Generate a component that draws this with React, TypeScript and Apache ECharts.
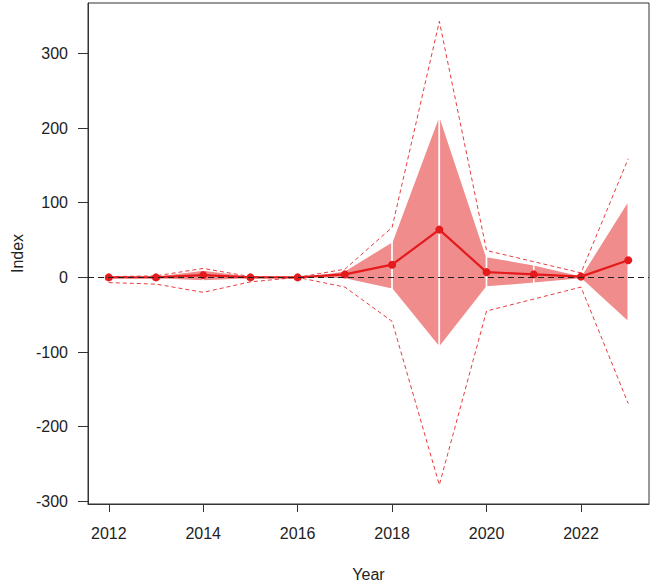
import React, { useEffect, useRef } from "react";
import * as echarts from "echarts";

const years = [2012, 2013, 2014, 2015, 2016, 2017, 2018, 2019, 2020, 2021, 2022, 2023];
const central = [0, 0, 3, 0, 0, 4, 17, 64, 7, 4, 1, 23];
const bandUpper = [1, 2, 10, 2, 0, 9, 48, 218, 28, 17, 2, 103];
const bandLower = [-1, -2, -5, -2, 0, -2, -16, -94, -13, -8, -2, -60];
const dashUpper = [1, 2, 12, 1, 0, 11, 67, 343, 36, 21, 6, 159];
const dashLower = [-7, -9, -20, -6, 0, -13, -59, -278, -45, -29, -13, -169];
const xTicks = [2012, 2014, 2016, 2018, 2020, 2022];
const yTicks = [-300, -200, -100, 0, 100, 200, 300];

const RED = "#E41A1C";
const FONT = "'Liberation Sans', Arial, sans-serif";

export default function App() {
  const ref = useRef<HTMLDivElement>(null);
  useEffect(() => {
    if (!ref.current) return;
    const chart = echarts.init(ref.current, null, { renderer: "svg" });
    const segs = years.slice(0, -1).map((y, i) => [
      y, bandUpper[i], bandLower[i], years[i + 1], bandUpper[i + 1], bandLower[i + 1],
    ]);
    chart.setOption({
      animation: false,
      backgroundColor: "#fff",
      grid: {
        left: 88, top: 3, width: 561, height: 503,
        show: true, borderColor: "#333", borderWidth: 1, backgroundColor: "transparent",
      },
      xAxis: {
        type: "value", min: 2011.56, max: 2023.44,
        name: "Year", nameLocation: "middle", nameGap: 62,
        nameTextStyle: { fontFamily: FONT, fontSize: 16, color: "#222" },
        axisLine: { show: true, onZero: false, lineStyle: { color: "#333" } },
        axisTick: { show: true, length: 8, customValues: xTicks, lineStyle: { color: "#333" } },
        axisLabel: { customValues: xTicks, margin: 21, fontFamily: FONT, fontSize: 16, color: "#222", formatter: (v: number) => String(v) },
        splitLine: { show: false },
      },
      yAxis: {
        type: "value", min: -303.6, max: 367.6,
        name: "Index", nameLocation: "middle", nameGap: 58, nameRotate: 90,
        nameTextStyle: { fontFamily: FONT, fontSize: 16, color: "#222" },
        axisLine: { show: true, onZero: false, lineStyle: { color: "#333" } },
        axisTick: { show: true, length: 10, customValues: yTicks, lineStyle: { color: "#333" } },
        axisLabel: { customValues: yTicks, margin: 20, fontFamily: FONT, fontSize: 16, color: "#222" },
        splitLine: { show: false },
      },
      series: [
        {
          type: "line", data: [], silent: true, z: 1,
          markLine: {
            silent: true, symbol: "none", label: { show: false },
            lineStyle: { color: "#222", type: [6, 4], width: 1 },
            data: [{ yAxis: 0 }],
          },
        },
        {
          type: "custom", z: 2, silent: true,
          data: segs,
          encode: { x: [0, 3], y: [1, 2, 4, 5] },
          renderItem: (params: any, api: any) => {
            const x0 = api.value(0), u0 = api.value(1), l0 = api.value(2);
            const x1 = api.value(3), u1 = api.value(4), l1 = api.value(5);
            const pts = [api.coord([x0, u0]), api.coord([x1, u1]), api.coord([x1, l1]), api.coord([x0, l0])];
            return {
              type: "polygon",
              shape: { points: pts },
              style: { fill: "rgba(228,26,28,0.5)", stroke: "#fff", lineWidth: 1.5 },
            };
          },
        },
        {
          type: "line", z: 3, silent: true, symbol: "none",
          data: years.map((y, i) => [y, dashUpper[i]]),
          lineStyle: { color: RED, width: 1, type: [4, 3], opacity: 0.85 },
        },
        {
          type: "line", z: 3, silent: true, symbol: "none",
          data: years.map((y, i) => [y, dashLower[i]]),
          lineStyle: { color: RED, width: 1, type: [4, 3], opacity: 0.85 },
        },
        {
          type: "line", z: 4, silent: true, symbol: "circle", symbolSize: 8,
          data: years.map((y, i) => [y, central[i]]),
          lineStyle: { color: RED, width: 2.2 },
          itemStyle: { color: RED },
        },
      ],
    });
    return () => chart.dispose();
  }, []);
  return <div ref={ref} style={{ position: "absolute", left: 0, top: 0, width: 661, height: 587 }} />;
}
